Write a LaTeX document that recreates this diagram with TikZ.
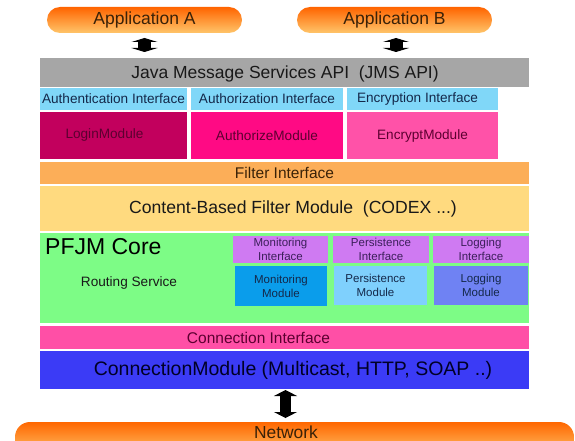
\documentclass[tikz,border=0pt]{standalone}
\usepackage{fontspec}
\setmainfont{Liberation Sans}
\usetikzlibrary{arrows.meta}

% layer colours
\definecolor{jmsGray}{HTML}{A6A6A6}
\definecolor{ifBlue}{HTML}{80D7F8}
\definecolor{loginC}{HTML}{C2005D}
\definecolor{authzC}{HTML}{FF0A84}
\definecolor{encC}{HTML}{FF52A8}
\definecolor{filterC}{HTML}{FCAE58}
\definecolor{cbfC}{HTML}{FFDA7F}
\definecolor{coreC}{HTML}{7DFC86}
\definecolor{violetC}{HTML}{CF7AF2}
\definecolor{monC}{HTML}{0A9DEB}
\definecolor{perC}{HTML}{7FD0FD}
\definecolor{logC}{HTML}{6F82F3}
\definecolor{connIC}{HTML}{FF4FA6}
\definecolor{connMC}{HTML}{3B3BF6}
\definecolor{pillTop}{HTML}{FF6400}
\definecolor{pillMid}{HTML}{FF9A30}
\definecolor{pillBot}{HTML}{FFC56A}
% text colours
\definecolor{navyT}{HTML}{14284A}
\definecolor{maroonT}{HTML}{5C0030}
\definecolor{purpleT}{HTML}{3C1F5A}
\definecolor{brownT}{HTML}{3A2208}

\tikzset{
  box/.style={anchor=north west, inner sep=0pt, outer sep=0pt, align=center},
  pill/.style={box, rounded corners=13pt, top color=pillTop, middle color=pillMid,
               bottom color=pillBot, text=brownT, font=\fontsize{17.5}{20}\selectfont},
  iffont/.style={font=\fontsize{13.6}{15}\selectfont},
  ifbox/.style={box, fill=ifBlue, text=navyT, iffont},
  modbox/.style={box, text=maroonT, font=\fontsize{13.6}{16}\selectfont},
  small/.style={font=\fontsize{11.5}{14}\selectfont},
  jarrow/.style={line width=13pt, {Triangle[width=26pt,length=4pt]}-{Triangle[width=26pt,length=4pt]}},
  narrow/.style={line width=11pt, {Triangle[width=23pt,length=6pt]}-{Triangle[width=23pt,length=6pt]}},
}

\begin{document}
\begin{tikzpicture}[x=1pt, y=-1pt]
\useasboundingbox (0,0) rectangle (575,441);
\clip (0,0) rectangle (575,441);

% applications
\node[pill, minimum width=195, minimum height=26] (appA) at (47,7) {Application A};
\node[pill, minimum width=195, minimum height=26] (appB) at (297,7) {Application B};

% JMS API
\node[box, fill=jmsGray, minimum width=489, minimum height=29] (jms) at (40,58) {};
\node[text=black!90, font=\fontsize{17.5}{20}\selectfont, inner sep=0pt] (jmsT) at (285,74)
      {Java Message Services API\ \ (JMS API)};

% security interfaces
\node[ifbox, minimum width=147, minimum height=22] (authI) at (40,88) {Authentication Interface};
\node[ifbox, minimum width=152, minimum height=22] (authzI) at (191,88) {Authorization Interface};
\node[ifbox, minimum width=151, minimum height=22,
      label={[text=navyT, iffont, xshift=-5pt]center:Encryption Interface}]
      (encI) at (347,88) {};

% security modules
\node[modbox, fill=loginC, minimum width=147, minimum height=47,
      label={[text=maroonT, font=\fontsize{13.6}{16}\selectfont, xshift=-9pt, yshift=1pt]center:LoginModule}]
      (login) at (40,112) {};
\node[modbox, fill=authzC, minimum width=152, minimum height=47] (authz) at (191,112) {AuthorizeModule};
\node[modbox, fill=encC, minimum width=151, minimum height=47] (encM) at (347,112) {EncryptModule};

% filter layers
\node[box, fill=filterC, text=brownT, minimum width=489, minimum height=22,
      font=\fontsize{15.5}{18}\selectfont] (filterI) at (40,162) {Filter Interface};
\node[box, fill=cbfC, minimum width=489, minimum height=45,
      label={[text=black!90, font=\fontsize{17.6}{20}\selectfont, xshift=8.5pt]center:Content-Based Filter Module\ \ (CODEX ...)}]
      (cbf) at (40,186) {};

% PFJM core
\node[box, fill=coreC, minimum width=489, minimum height=90] (core) at (40,233) {};
\node[anchor=west, inner sep=0pt, font=\fontsize{23}{27}\selectfont] (pfjm) at (45,247) {PFJM Core};
\node[inner sep=0pt, text=black!90, font=\fontsize{13.6}{16}\selectfont] (routing) at (129,283) {Routing Service};

\node[box, small, fill=violetC, text=purpleT, minimum width=95, minimum height=27] (monI) at (233,236) {Monitoring\\Interface};
\node[box, small, fill=violetC, text=purpleT, minimum width=96, minimum height=27] (perI) at (333,236) {Persistence\\Interface};
\node[box, small, fill=violetC, text=purpleT, minimum width=96, minimum height=27] (logI) at (433,236) {Logging\\Interface};

\node[box, small, fill=monC, text=navyT, minimum width=92, minimum height=40] (monM) at (235,266) {Monitoring\\Module};
\node[box, fill=perC, minimum width=93, minimum height=39,
      label={[small, text=navyT, align=center, xshift=-5pt]center:Persistence\\Module}]
      (perM) at (334,266) {};
\node[box, small, fill=logC, text=navyT, minimum width=94, minimum height=39] (logM) at (434,266) {Logging\\Module};

% connection layers
\node[box, fill=connIC, minimum width=489, minimum height=23,
      label={[text=maroonT, font=\fontsize{15.5}{18}\selectfont, xshift=-26pt]center:Connection Interface}]
      (connI) at (40,326) {};
\node[box, fill=connMC, minimum width=489, minimum height=38,
      label={[text=black!85!blue, font=\fontsize{19.5}{22}\selectfont, xshift=8.5pt]center:ConnectionModule (Multicast, HTTP, SOAP ..)}]
      (connM) at (40,351) {};

% network
\node[box, rounded corners=15pt, top color=pillTop!90!orange, middle color=pillMid,
      bottom color=pillBot, minimum width=559, minimum height=34] (net) at (15,422) {};
\node[text=brownT, inner sep=0pt, font=\fontsize{17.4}{20}\selectfont, anchor=base] (netT) at (286,438.5) {Network};

% connectors
\draw[jarrow, shorten <=5pt, shorten >=6pt] (appA.south) -- (appA.south |- jms.north);
\draw[jarrow, shorten <=5pt, shorten >=6pt] ([xshift=1.5pt]appB.south) -- ([xshift=1.5pt]appB.south |- jms.north);
\draw[narrow, shorten <=1pt, shorten >=4pt] ([xshift=1pt]connM.south) -- ([xshift=1pt]connM.south |- net.north);
\end{tikzpicture}
\end{document}
